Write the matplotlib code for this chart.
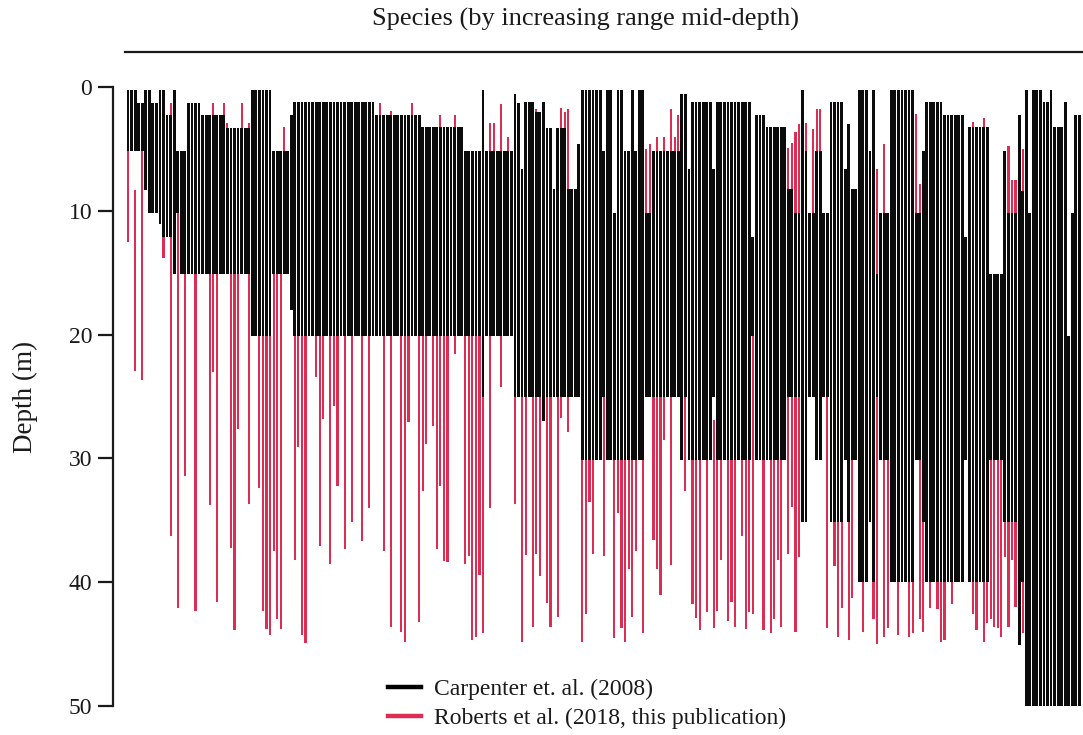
import matplotlib
matplotlib.use("Agg")
import matplotlib.pyplot as plt
from matplotlib.lines import Line2D
import numpy as np

# species ordered by increasing range mid-depth; depths in metres
carp_top = [
    0.25, 0.25, 0.25, 1.3, 1.3, 0.25, 0.25, 1.3, 1.3, 0.25,
    0.25, 2.3, 2.3, 0.25, 5.2, 5.2, 5.2, 1.3, 1.3, 1.3,
    1.3, 2.3, 2.3, 2.3, 2.3, 2.3, 2.3, 2.3, 3.3, 3.3,
    3.3, 3.3, 3.3, 3.3, 3.3, 0.25, 0.25, 0.25, 0.25, 0.25,
    0.25, 5.2, 5.2, 5.2, 5.2, 5.2, 2.3, 1.24, 1.24, 1.24,
    1.24, 1.24, 1.24, 1.24, 1.24, 1.24, 1.24, 1.24, 1.24, 1.24,
    1.24, 1.24, 1.24, 1.24, 1.24, 1.24, 1.24, 1.24, 1.24, 1.24,
    2.26, 2.26, 2.26, 2.26, 2.26, 2.26, 2.26, 2.26, 2.26, 2.26,
    2.26, 2.26, 2.26, 3.26, 3.26, 3.26, 3.26, 3.26, 3.26, 3.26,
    3.26, 3.26, 3.26, 3.26, 3.26, 5.2, 5.2, 5.2, 5.2, 5.2,
    0.25, 5.2, 5.2, 5.2, 5.2, 5.2, 5.2, 5.2, 5.2, 0.6,
    1.3, 6.6, 1.24, 1.24, 1.24, 2.0, 2.0, 1.24, 3.3, 3.3,
    8.2, 3.3, 3.3, 3.3, 8.2, 8.2, 8.2, 4.6, 0.25, 0.25,
    0.25, 0.25, 0.25, 0.25, 5.2, 0.25, 0.25, 10.2, 0.25, 0.25,
    5.2, 5.2, 0.25, 5.2, 0.25, 0.25, 10.2, 10.2, 5.2, 5.2,
    5.2, 5.2, 5.2, 5.2, 5.2, 5.2, 0.6, 0.6, 6.6, 1.24,
    1.24, 1.24, 1.24, 1.24, 1.24, 6.6, 1.24, 1.24, 1.24, 1.24,
    1.24, 1.24, 1.24, 1.24, 1.24, 1.24, 12.1, 2.26, 2.26, 2.26,
    3.26, 3.26, 3.26, 3.26, 3.26, 3.26, 8.2, 8.2, 10.2, 10.2,
    0.25, 5.2, 10.2, 10.2, 5.2, 5.2, 10.2, 10.2, 1.24, 1.24,
    1.24, 1.24, 6.6, 3.0, 8.2, 8.2, 0.25, 0.25, 0.25, 5.2,
    0.25, 15.1, 10.2, 10.2, 10.2, 0.25, 0.25, 0.25, 0.25, 0.25,
    0.25, 0.25, 10.2, 10.2, 5.2, 1.24, 1.24, 1.24, 1.24, 1.24,
    2.26, 2.26, 2.26, 2.26, 2.26, 2.26, 12.1, 3.26, 3.26, 3.26,
    3.26, 3.26, 3.26, 15.1, 15.1, 15.1, 15.1, 5.2, 10.2, 10.2,
    10.2, 2.26, 8.4, 0.25, 10.2, 0.25, 0.25, 0.25, 1.24, 1.24,
    0.25, 3.26, 3.26, 3.26, 1.24, 20.1, 10.2, 2.26, 2.26,
]
carp_bot = [
    5.2, 5.2, 5.2, 5.2, 5.2, 8.3, 10.2, 10.2, 10.2, 11.1,
    12.1, 12.1, 12.1, 15.1, 10.2, 15.1, 15.1, 15.1, 15.1, 15.1,
    15.1, 15.1, 15.1, 15.1, 15.1, 15.1, 15.1, 15.1, 15.1, 15.1,
    15.1, 15.1, 15.1, 15.1, 15.1, 20.1, 20.1, 20.1, 20.1, 20.1,
    20.1, 15.1, 15.1, 15.1, 15.1, 15.1, 18.0, 20.1, 20.1, 20.1,
    20.1, 20.1, 20.1, 20.1, 20.1, 20.1, 20.1, 20.1, 20.1, 20.1,
    20.1, 20.1, 20.1, 20.1, 20.1, 20.1, 20.1, 20.1, 20.1, 20.1,
    20.1, 20.1, 20.1, 20.1, 20.1, 20.1, 20.1, 20.1, 20.1, 20.1,
    20.1, 20.1, 20.1, 20.1, 20.1, 20.1, 20.1, 20.1, 20.1, 20.1,
    20.1, 20.1, 20.1, 20.1, 20.1, 20.1, 20.1, 20.1, 20.1, 20.1,
    25.0, 20.1, 20.1, 20.1, 20.1, 20.1, 20.1, 20.1, 20.1, 25.0,
    25.0, 25.0, 25.0, 25.0, 25.0, 25.0, 25.0, 27.0, 25.0, 25.0,
    25.0, 25.0, 25.0, 25.0, 25.0, 25.0, 25.0, 25.0, 30.1, 30.1,
    30.1, 30.1, 30.1, 30.1, 25.0, 30.1, 30.1, 30.1, 30.1, 30.1,
    30.1, 30.1, 30.1, 30.1, 30.1, 30.1, 25.0, 25.0, 25.0, 25.0,
    25.0, 25.0, 25.0, 25.0, 25.0, 25.0, 30.1, 25.0, 30.1, 30.1,
    30.1, 30.1, 30.1, 30.1, 30.1, 25.0, 30.1, 30.1, 30.1, 30.1,
    30.1, 30.1, 30.1, 30.1, 30.1, 30.1, 20.1, 30.1, 30.1, 30.1,
    30.1, 30.1, 30.1, 30.1, 30.1, 30.1, 25.0, 25.0, 25.0, 25.0,
    35.1, 35.1, 25.0, 25.0, 30.1, 30.1, 25.0, 25.0, 35.1, 35.1,
    35.1, 35.1, 30.1, 35.1, 30.1, 30.1, 40.0, 40.0, 40.0, 35.1,
    40.0, 25.0, 30.1, 30.1, 30.1, 40.0, 40.0, 40.0, 40.0, 40.0,
    40.0, 40.0, 30.1, 30.1, 35.1, 40.0, 40.0, 40.0, 40.0, 40.0,
    40.0, 40.0, 40.0, 40.0, 40.0, 40.0, 30.1, 40.0, 40.0, 40.0,
    40.0, 40.0, 40.0, 30.1, 30.1, 30.1, 30.1, 35.1, 35.1, 35.1,
    35.1, 45.1, 40.0, 50.0, 50.0, 50.0, 50.0, 50.0, 50.0, 50.0,
    50.0, 50.0, 50.0, 50.0, 50.0, 50.0, 50.0, 50.0, 50.0,
]
rob_top = [
    0.25, 0.25, 8.3, 1.3, 1.3, 0.25, 0.25, 1.3, 1.3, 0.25,
    0.25, 2.3, 1.3, 0.25, 5.2, 5.2, 5.2, 1.3, 1.3, 1.3,
    1.3, 2.3, 2.3, 2.3, 1.3, 2.3, 2.3, 1.3, 2.9, 3.3,
    3.3, 3.3, 1.3, 3.3, 2.9, 0.25, 0.25, 0.25, 0.25, 0.25,
    0.25, 5.2, 5.2, 5.2, 3.2, 5.2, 2.3, 1.24, 1.24, 1.24,
    1.24, 1.24, 1.24, 1.24, 1.24, 1.24, 1.24, 1.24, 1.24, 1.24,
    1.24, 1.24, 1.24, 1.24, 1.24, 1.24, 1.24, 1.24, 1.24, 1.24,
    2.26, 1.3, 2.26, 2.26, 1.9, 2.26, 2.26, 2.26, 2.26, 2.26,
    1.3, 2.26, 2.26, 3.26, 3.26, 3.26, 3.26, 3.26, 2.3, 3.26,
    3.26, 3.26, 2.3, 3.26, 3.26, 5.2, 5.2, 5.2, 5.2, 5.2,
    0.25, 5.2, 2.9, 2.9, 5.2, 1.4, 5.2, 4.0, 5.2, 0.6,
    1.3, 6.6, 1.24, 1.24, 1.24, 1.8, 2.0, 1.24, 3.3, 3.3,
    8.2, 3.3, 1.7, 2.0, 1.8, 8.2, 8.2, 4.6, 0.25, 0.25,
    0.25, 0.25, 0.25, 0.25, 5.2, 0.25, 0.25, 10.2, 0.25, 0.25,
    5.2, 5.2, 0.25, 5.2, 0.25, 0.25, 5.0, 4.6, 5.2, 4.0,
    5.2, 4.0, 5.2, 1.8, 4.0, 2.3, 0.6, 0.6, 6.6, 1.24,
    1.24, 1.24, 1.24, 1.24, 1.24, 26.9, 1.24, 1.24, 1.24, 1.24,
    1.24, 1.24, 1.24, 1.24, 1.24, 1.24, 20.1, 2.26, 2.26, 2.26,
    3.26, 3.26, 3.26, 3.26, 3.26, 3.26, 4.9, 4.5, 3.6, 3.0,
    0.25, 2.9, 10.2, 3.4, 1.8, 1.8, 10.2, 10.2, 1.24, 1.24,
    1.24, 1.24, 6.6, 3.0, 8.2, 8.2, 0.25, 0.25, 0.25, 5.2,
    0.25, 6.6, 10.2, 4.6, 10.2, 0.25, 0.25, 0.25, 0.25, 0.25,
    0.25, 0.25, 2.2, 7.8, 5.2, 1.24, 1.24, 1.24, 1.24, 1.24,
    2.26, 2.26, 2.26, 2.26, 2.26, 2.26, 12.1, 3.26, 2.8, 3.26,
    3.26, 2.5, 3.26, 15.1, 15.1, 15.1, 15.1, 5.2, 4.8, 7.5,
    7.5, 2.26, 5.0, 0.25, 10.2, 0.25, 0.25, 0.25, 1.24, 1.24,
    0.25, 3.26, 3.26, 3.26, 1.24, 20.1, 10.2, 2.26, 2.26,
]
rob_bot = [
    12.5, 5.2, 22.9, 5.2, 23.7, 8.3, 10.2, 10.2, 10.2, 11.1,
    13.8, 12.1, 36.3, 15.1, 42.1, 15.1, 31.4, 15.1, 15.1, 42.3,
    15.1, 15.1, 15.1, 33.8, 23.0, 41.6, 15.1, 15.1, 15.1, 37.2,
    43.9, 27.6, 15.1, 15.1, 33.7, 20.1, 20.1, 32.4, 42.3, 43.8,
    44.3, 37.5, 43.0, 43.8, 15.1, 15.1, 18.0, 38.2, 29.1, 44.3,
    44.9, 20.1, 20.1, 23.4, 37.1, 26.8, 20.1, 38.5, 25.8, 32.2,
    20.1, 37.3, 20.1, 35.1, 20.1, 20.1, 36.7, 20.1, 34.0, 20.1,
    20.1, 20.1, 37.5, 20.1, 43.6, 20.1, 20.1, 44.0, 44.8, 27.1,
    20.1, 20.1, 43.2, 32.6, 28.8, 20.1, 27.4, 37.3, 32.2, 38.3,
    38.4, 20.1, 21.6, 20.1, 20.1, 38.5, 37.9, 44.7, 44.4, 39.4,
    44.1, 20.1, 34.0, 20.1, 20.1, 24.2, 20.1, 20.1, 20.1, 33.7,
    25.0, 44.8, 37.8, 25.0, 43.6, 37.7, 39.5, 27.0, 41.7, 43.6,
    25.0, 42.8, 26.7, 25.0, 27.9, 25.0, 25.0, 25.0, 44.8, 42.6,
    33.5, 37.7, 30.1, 30.1, 37.9, 30.1, 30.1, 44.5, 34.4, 43.7,
    44.8, 38.9, 42.8, 37.5, 30.1, 44.1, 25.0, 25.0, 36.6, 38.9,
    41.0, 28.5, 25.0, 38.6, 25.0, 25.0, 30.1, 32.6, 30.1, 41.8,
    42.9, 43.9, 30.1, 42.4, 30.1, 43.7, 42.3, 38.2, 30.1, 43.1,
    41.6, 43.6, 30.1, 36.3, 43.8, 42.4, 42.6, 30.1, 30.1, 43.9,
    30.1, 44.1, 43.0, 38.2, 43.6, 30.1, 37.7, 33.9, 44.0, 38.0,
    35.1, 35.1, 25.0, 25.0, 30.1, 30.1, 25.0, 43.7, 35.1, 38.7,
    44.4, 42.1, 30.1, 44.7, 41.3, 30.1, 40.0, 44.0, 40.0, 35.1,
    43.0, 45.0, 30.1, 44.4, 43.7, 40.0, 40.0, 44.3, 40.0, 40.0,
    44.4, 44.1, 30.1, 43.0, 44.0, 40.0, 42.1, 40.0, 42.2, 44.8,
    44.7, 40.0, 41.8, 40.0, 40.0, 40.0, 30.1, 40.0, 42.6, 43.9,
    40.0, 44.8, 43.3, 43.0, 43.6, 43.7, 44.4, 38.0, 43.6, 38.2,
    42.0, 45.1, 44.1, 50.0, 50.0, 50.0, 50.0, 50.0, 50.0, 50.0,
    50.0, 50.0, 50.0, 50.0, 50.0, 50.0, 50.0, 50.0, 50.0,
]
depth_ticks = [0, 10, 20, 30, 40, 50]

RED = "#dc2d55"
INK = "#1a1a1a"
plt.rcParams["font.family"] = ["Liberation Serif", "DejaVu Serif"]

carp_top = np.array(carp_top)
carp_bot = np.array(carp_bot)
rob_top = np.array(rob_top)
rob_bot = np.array(rob_bot)
species = np.arange(len(carp_top))

fig = plt.figure(figsize=(10.83, 7.35), dpi=100)
ax = fig.add_axes([125 / 1083, 29 / 735, 958 / 1083, 619 / 735])

# red ranges sit behind the black ones
ax.bar(species, rob_bot - rob_top, bottom=rob_top, width=0.6,
       color=RED, linewidth=0, zorder=1)
ax.bar(species, carp_bot - carp_top, bottom=carp_top, width=0.79,
       color="#0b0b0b", linewidth=0, zorder=2)

ax.set_xlim(-0.85, 269.0)
ax.set_ylim(50, 0)

for s in ["right", "bottom"]:
    ax.spines[s].set_visible(False)
ax.spines["left"].set_position(("outward", 8.6))
ax.spines["left"].set_bounds(0, 50)
ax.spines["top"].set_position(("outward", 25))
for s in ["left", "top"]:
    ax.spines[s].set_linewidth(1.6)
    ax.spines[s].set_color(INK)

ax.set_xticks([])
ax.set_yticks(depth_ticks)
ax.tick_params(axis="y", direction="out", length=11, width=1.6,
               color=INK, labelsize=17, labelcolor=INK, pad=4)

fig.text(25 / 1083, 1 - 397 / 735, "Depth (m)", rotation=90,
         ha="center", va="center", fontsize=19.5, color=INK)
fig.text(586 / 1083, 1 - 19 / 735, "Species (by increasing range mid-depth)",
         ha="center", va="center", fontsize=19, color=INK)

handles = [Line2D([], [], color="black", lw=3.2),
           Line2D([], [], color=RED, lw=3.2)]
fig.legend(handles, ["Carpenter et. al. (2008)",
                     "Roberts et al. (2018, this publication)"],
           loc="lower left", bbox_to_anchor=(388 / 1083, 6 / 735),
           frameon=False, fontsize=17, handlelength=1.4,
           handletextpad=0.55, labelspacing=0.32, borderpad=0,
           borderaxespad=0, labelcolor=INK)

fig.savefig("out.png", dpi=100)
